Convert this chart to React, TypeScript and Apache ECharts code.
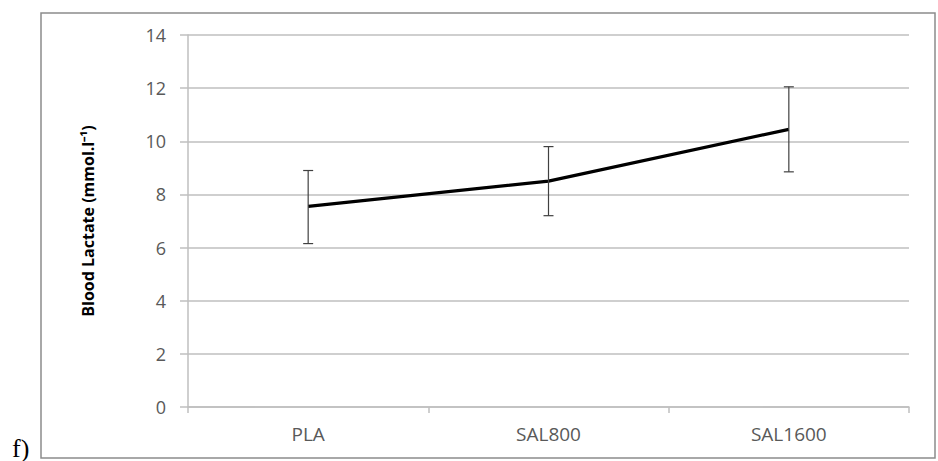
import React, { useEffect, useRef } from "react";
import * as echarts from "echarts";

const categories = ["PLA", "SAL800", "SAL1600"];
const means = [7.55, 8.5, 10.45];
const errLow = [6.15, 7.2, 8.85];
const errHigh = [8.9, 9.8, 12.05];
const yTicks = { min: 0, max: 14, interval: 2 };

export default function App() {
  const ref = useRef<HTMLDivElement>(null);
  useEffect(() => {
    if (!ref.current) return;
    const chart = echarts.init(ref.current, null, { renderer: "svg" });
    const errData = categories.map((_, i) => [i, errLow[i], errHigh[i]]);
    chart.setOption({
      animation: false,
      backgroundColor: "#ffffff",
      grid: { left: 188, right: 29, top: 35, bottom: 54, containLabel: false },
      xAxis: {
        type: "category",
        data: categories,
        boundaryGap: true,
        axisLine: { lineStyle: { color: "#bfbfbf", width: 1.5 } },
        axisTick: { show: true, length: 6, lineStyle: { color: "#bfbfbf", width: 1.5 } },
        axisLabel: { color: "#595959", fontSize: 19, fontFamily: "Open Sans", margin: 17 },
      },
      yAxis: {
        type: "value",
        min: yTicks.min,
        max: yTicks.max,
        interval: yTicks.interval,
        name: "Blood Lactate (mmol.l⁻¹)",
        nameLocation: "middle",
        nameGap: 92,
        nameTextStyle: { color: "#000000", fontSize: 16, fontWeight: "bold", fontFamily: "Open Sans" },
        axisLine: { show: true, lineStyle: { color: "#bfbfbf", width: 1.5 } },
        axisTick: { show: true, length: 8, lineStyle: { color: "#bfbfbf", width: 1.5 } },
        axisLabel: { color: "#595959", fontSize: 18, fontFamily: "Open Sans", margin: 22 },
        splitLine: { show: true, lineStyle: { color: "#bfbfbf", width: 1.5 } },
      },
      series: [
        {
          type: "line",
          data: means,
          symbol: "none",
          lineStyle: { color: "#000000", width: 3.2 },
          z: 3,
        },
        {
          type: "custom",
          data: errData,
          z: 4,
          renderItem: (params: any, api: any) => {
            const x = api.value(0);
            const lo = api.coord([x, api.value(1)]);
            const hi = api.coord([x, api.value(2)]);
            const w = 5;
            const style = { stroke: "#404040", lineWidth: 1.2 };
            return {
              type: "group",
              children: [
                { type: "line", shape: { x1: lo[0], y1: lo[1], x2: hi[0], y2: hi[1] }, style },
                { type: "line", shape: { x1: hi[0] - w, y1: hi[1], x2: hi[0] + w, y2: hi[1] }, style },
                { type: "line", shape: { x1: lo[0] - w, y1: lo[1], x2: lo[0] + w, y2: lo[1] }, style },
              ],
            };
          },
        },
      ],
      graphic: [
        {
          type: "rect",
          shape: { x: 41, y: 13, width: 894, height: 445 },
          style: { fill: "none", stroke: "#8c8c8c", lineWidth: 1.5 },
          z: 10,
        },
        {
          type: "text",
          x: 12,
          y: 461,
          style: {
            text: "f)",
            font: "26px 'Liberation Serif'",
            fill: "#000000",
            textVerticalAlign: "bottom",
          },
        },
      ],
    });
    return () => chart.dispose();
  }, []);
  return (
    <div
      ref={ref}
      style={{ position: "fixed", left: 0, top: 0, width: 938, height: 461 }}
    />
  );
}
